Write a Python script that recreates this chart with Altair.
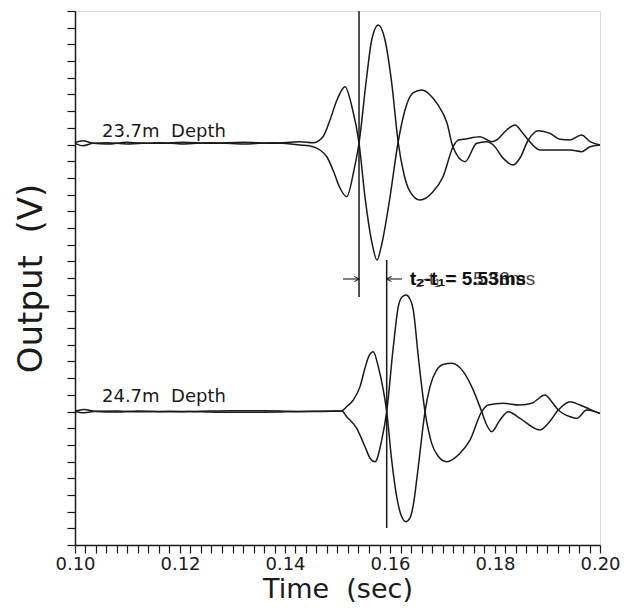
import altair as alt
import pandas as pd

# ---------------- data ----------------
# Trace pair at 23.7 m depth (baseline ~24 on the unlabelled y axis)
a_time = [0.1000, 0.10152, 0.10343, 0.10610, 0.10990, 0.11105, 0.11619, 0.12057,
          0.12571, 0.13200, 0.13771, 0.14286, 0.14533, 0.14724, 0.14857, 0.14990,
          0.15143, 0.15276, 0.15410, 0.15524, 0.15657, 0.15752, 0.15848, 0.16000,
          0.16152, 0.16286, 0.16438, 0.16610, 0.16800, 0.16914, 0.17086, 0.17200,
          0.17429, 0.17651, 0.17842, 0.17968, 0.18152, 0.18343, 0.18476, 0.18634,
          0.18825, 0.19048, 0.19238, 0.19429, 0.19651, 0.19810, 0.20000]
a_val = [24.11, 24.23, 24.07, 24.03, 24.13, 24.11, 24.07, 24.13,
         24.07, 24.13, 24.07, 24.17, 24.11, 24.47, 25.47, 26.67,
         27.46, 26.25, 24.09, 20.85, 18.10, 17.08, 18.10, 20.85,
         24.09, 26.07, 27.09, 27.27, 26.85, 26.37, 25.29, 23.85,
         22.97, 24.07, 24.17, 23.97, 23.19, 22.77, 23.19, 24.27,
         24.83, 24.67, 24.31, 24.27, 24.57, 24.17, 23.97]

b_time = [0.1000, 0.10152, 0.10343, 0.10610, 0.10990, 0.11619, 0.12057, 0.12571,
          0.13200, 0.13771, 0.14286, 0.14533, 0.14667, 0.14800, 0.14914, 0.15048,
          0.15175, 0.15314, 0.15410, 0.15556, 0.15651, 0.15777, 0.15905, 0.16032,
          0.16158, 0.16248, 0.16381, 0.16571, 0.16819, 0.17010, 0.17200, 0.17301,
          0.17396, 0.17714, 0.17937, 0.18032, 0.18223, 0.18381, 0.18508, 0.18634,
          0.18857, 0.19175, 0.19429, 0.19651, 0.19810, 0.20000]
b_val = [24.07, 23.93, 24.07, 24.11, 24.03, 24.11, 24.03, 24.11,
         24.03, 24.11, 23.97, 23.87, 23.67, 23.25, 22.47, 21.39,
         20.87, 22.47, 24.09, 28.06, 30.26, 31.16, 30.26, 27.69,
         24.09, 22.47, 21.17, 20.67, 21.17, 22.07, 23.85, 24.27,
         24.31, 24.47, 24.17, 24.27, 24.87, 25.17, 24.77, 24.27,
         23.67, 23.67, 23.67, 23.57, 23.87, 23.97]

# Trace pair at 24.7 m depth (baseline ~8)
c_time = [0.1000, 0.1017, 0.1040, 0.1080, 0.1120, 0.1180, 0.1240, 0.1300,
          0.1360, 0.1400, 0.1435, 0.15080, 0.15175, 0.15301, 0.15429, 0.15524,
          0.15600, 0.15682, 0.15777, 0.15872, 0.15937, 0.16032, 0.16128, 0.16210,
          0.16305, 0.16381, 0.16444, 0.16539, 0.16667, 0.16762, 0.16890, 0.17010,
          0.17175, 0.17396, 0.17556, 0.17747, 0.17842, 0.17937, 0.18095, 0.18253,
          0.18476, 0.18857, 0.19015, 0.19206, 0.19429, 0.19619, 0.19810, 0.20000]
c_val = [8.02, 8.12, 8.00, 7.97, 8.03, 7.98, 8.02, 8.05,
         8.04, 8.02, 8.00, 8.03, 8.29, 8.69, 9.49, 10.61,
         11.33, 11.58, 10.68, 9.29, 7.99, 5.09, 2.89, 1.80,
         1.40, 1.62, 2.40, 4.69, 7.99, 9.49, 10.49, 10.82,
         10.89, 10.39, 9.49, 7.99, 7.19, 6.79, 7.49, 7.99,
         7.59, 6.89, 7.29, 8.09, 8.59, 8.39, 8.13, 7.89]

d_time = [0.1000, 0.1017, 0.1040, 0.1080, 0.1120, 0.1180, 0.1240, 0.1300,
          0.1360, 0.1400, 0.1435, 0.15080, 0.15175, 0.15366, 0.15524, 0.15619,
          0.15714, 0.15842, 0.15937, 0.16063, 0.16158, 0.16229, 0.16305, 0.16381,
          0.16444, 0.16539, 0.16667, 0.16794, 0.16914, 0.17080, 0.17333, 0.17524,
          0.17747, 0.17872, 0.18158, 0.18476, 0.18699, 0.18952, 0.19080, 0.19206,
          0.19429, 0.19556, 0.19747, 0.20000]
d_val = [8.02, 7.92, 8.01, 8.03, 7.98, 8.02, 7.98, 7.95,
         7.96, 7.98, 8.00, 8.03, 7.69, 6.99, 5.89, 5.21,
         4.99, 6.29, 7.99, 11.88, 14.28, 14.86, 14.98, 14.74,
         14.08, 11.28, 7.99, 6.09, 5.33, 4.99, 5.50, 6.29,
         7.99, 8.39, 8.49, 8.39, 8.49, 8.99, 8.59, 8.09,
         7.69, 7.59, 8.09, 7.89]

# arrival-time markers
t1_time = 0.15410
t2_time = 0.15937
marker_t = [t1_time, t2_time]
marker_y0 = [14.86, 1.02]
marker_y1 = [32.0, 17.08]

arrow_y = 15.94
arrow_tail = [0.15105, 0.16229]

NB = "\u00a0"
depth_labels = ["23.7m" + NB + NB + "Depth", "24.7m" + NB + NB + "Depth"]
depth_t = [0.10514, 0.10514]
depth_y = [24.45, 8.57]

delta_label = "t\u2082-t\u2081=" + NB + "5.53ms"
delta_label2 = "t\u2082-t\u2081" + NB + "=" + NB + NB + NB + "5.53ms"
delta_t = 0.16381

x_ticks = [round(0.100 + 0.002 * i, 3) for i in range(51)]
y_ticks = list(range(33))

# ---------------- build tables ----------------
rows = []
for name, ts, vs in [("A", a_time, a_val), ("B", b_time, b_val),
                     ("C", c_time, c_val), ("D", d_time, d_val)]:
    for i, (t, v) in enumerate(zip(ts, vs)):
        rows.append({"time": t, "value": v, "trace": name, "idx": i})
traces = pd.DataFrame(rows)

markers = pd.DataFrame({"time": marker_t, "value": marker_y0, "value2": marker_y1})
shafts = pd.DataFrame({"time": [arrow_tail[0], t2_time],
                       "time2": [t1_time, arrow_tail[1]],
                       "value": [arrow_y, arrow_y]})
heads_r = pd.DataFrame({"time": [t1_time], "value": [arrow_y]})
heads_l = pd.DataFrame({"time": [t2_time], "value": [arrow_y]})
depth_df = pd.DataFrame({"time": depth_t, "value": depth_y, "label": depth_labels})
delta_df = pd.DataFrame({"time": [delta_t], "value": [arrow_y]})

FONT = "DejaVu Sans"
INK = "#1a1a1a"

xscale = alt.Scale(domain=[0.10, 0.20], nice=False, zero=False)
yscale = alt.Scale(domain=[0, 32], nice=False, zero=False)

x_axis = alt.Axis(values=x_ticks, title="Time" + NB + NB + "(sec)", grid=False, tickSize=8,
                  labelExpr="abs(datum.value*50 - round(datum.value*50)) < 0.01 ? format(datum.value, '.2f') : ''",
                  labelFont=FONT, labelFontSize=18, labelColor=INK, labelPadding=2,
                  labelFlush=False, labelOverlap=False, labelBound=False,
                  titleFont=FONT, titleFontSize=27, titleFontWeight="normal",
                  titleColor=INK, titlePadding=3,
                  domainColor=INK, domainWidth=1.5, tickColor=INK, tickWidth=1.2)
y_axis = alt.Axis(values=y_ticks, labels=False, title="Output" + NB + NB + "(V)", grid=False,
                  tickSize=8, titleFont=FONT, titleFontSize=34,
                  titleFontWeight="normal", titleColor=INK, titlePadding=18,
                  domainColor=INK, domainWidth=1.5, tickColor=INK, tickWidth=1.2)


def X(field):
    return alt.X(field, scale=xscale, axis=x_axis)


def Y(field):
    return alt.Y(field, scale=yscale, axis=y_axis)


lines = alt.Chart(traces).mark_line(interpolate="monotone", color=INK,
                                    strokeWidth=1.5).encode(
    x=X("time:Q"), y=Y("value:Q"),
    detail="trace:N",
    order="idx:Q",
)

rules = alt.Chart(markers).mark_rule(color=INK, strokeWidth=1.5).encode(
    x=X("time:Q"), y=Y("value:Q"), y2="value2:Q")

arrow_shafts = alt.Chart(shafts).mark_rule(color=INK, strokeWidth=1.1).encode(
    x=X("time:Q"), x2="time2:Q", y=Y("value:Q"))

head_r = alt.Chart(heads_r).mark_point(shape="M -1 -0.55 L 0 0 L -1 0.55",
                                       filled=False, size=90, color=INK,
                                       strokeWidth=1.1, opacity=1).encode(
    x=X("time:Q"), y=Y("value:Q"))
head_l = alt.Chart(heads_l).mark_point(shape="M 1 -0.55 L 0 0 L 1 0.55",
                                       filled=False, size=90, color=INK,
                                       strokeWidth=1.1, opacity=1).encode(
    x=X("time:Q"), y=Y("value:Q"))

depth_text = alt.Chart(depth_df).mark_text(align="left", baseline="alphabetic",
                                           font=FONT, fontSize=18,
                                           color=INK).encode(
    x=X("time:Q"), y=Y("value:Q"), text="label:N")

delta_reg = alt.Chart(delta_df).mark_text(align="left", baseline="middle",
                                          font="Liberation Sans", fontSize=19,
                                          color="#444444", text=delta_label2).encode(
    x=X("time:Q"), y=Y("value:Q"))
delta_bold = alt.Chart(delta_df).mark_text(align="left", baseline="middle",
                                           font="Liberation Sans", fontSize=19,
                                           fontWeight="bold", color="#111111",
                                           text=delta_label).encode(
    x=X("time:Q"), y=Y("value:Q"))

chart = alt.layer(lines, rules, arrow_shafts, head_r, head_l, depth_text,
                  delta_reg, delta_bold).properties(
    width=525, height=534,
    autosize=alt.AutoSizeParams(type="none"),
    padding={"left": 67, "top": 3, "right": 23, "bottom": 58},
).configure_view(strokeWidth=0).configure(background="white")

chart.save("out.html", embed_options={"renderer": "svg", "actions": False})
